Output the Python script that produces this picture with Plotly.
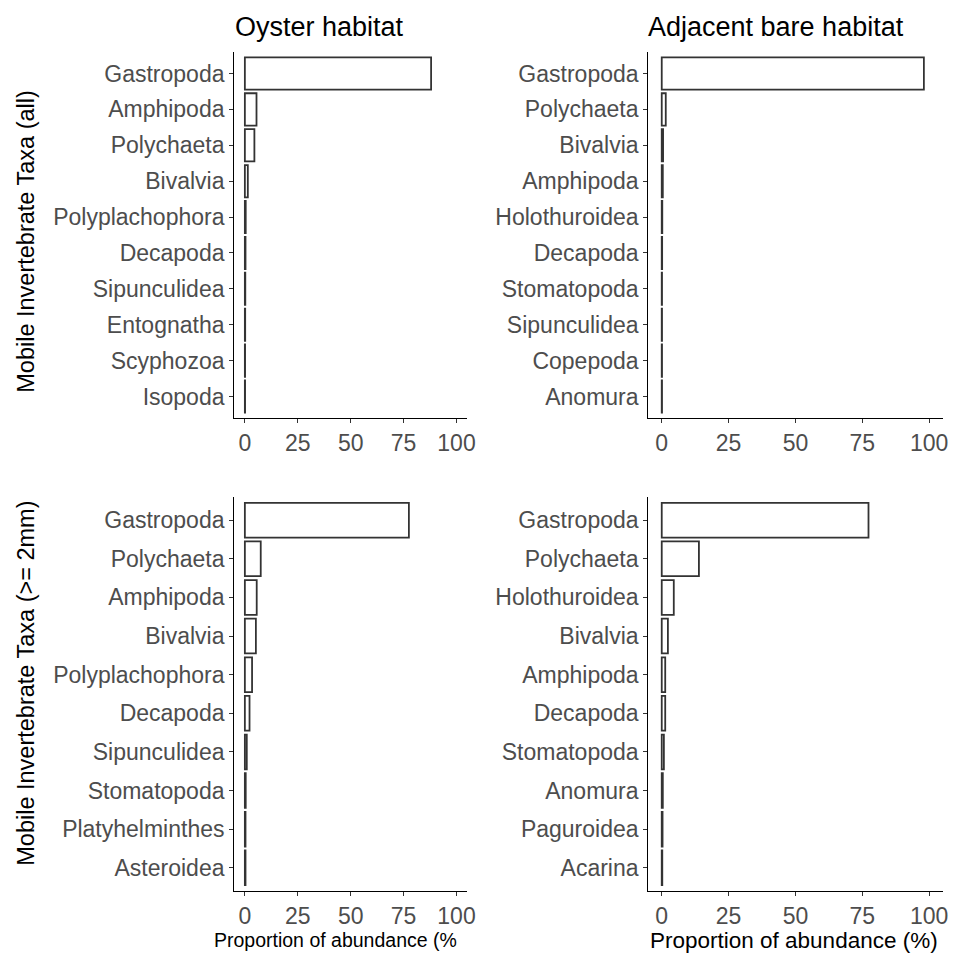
import plotly.graph_objects as go

# ---- data ----
oyster_all_taxa = ["Gastropoda", "Amphipoda", "Polychaeta", "Bivalvia", "Polyplachophora",
                   "Decapoda", "Sipunculidea", "Entognatha", "Scyphozoa", "Isopoda"]
oyster_all_vals = [88.0, 5.5, 4.5, 1.4, 0.4, 0.3, 0.2, 0.15, 0.1, 0.1]

bare_all_taxa = ["Gastropoda", "Polychaeta", "Bivalvia", "Amphipoda", "Holothuroidea",
                 "Decapoda", "Stomatopoda", "Sipunculidea", "Copepoda", "Anomura"]
bare_all_vals = [98.0, 1.5, 0.5, 0.4, 0.2, 0.15, 0.1, 0.1, 0.1, 0.1]

oyster_2mm_taxa = ["Gastropoda", "Polychaeta", "Amphipoda", "Bivalvia", "Polyplachophora",
                   "Decapoda", "Sipunculidea", "Stomatopoda", "Platyhelminthes", "Asteroidea"]
oyster_2mm_vals = [77.5, 7.5, 5.6, 5.2, 3.4, 2.2, 0.9, 0.4, 0.3, 0.3]

bare_2mm_taxa = ["Gastropoda", "Polychaeta", "Holothuroidea", "Bivalvia", "Amphipoda",
                 "Decapoda", "Stomatopoda", "Anomura", "Paguroidea", "Acarina"]
bare_2mm_vals = [77.3, 13.9, 4.5, 2.3, 1.3, 1.3, 0.8, 0.4, 0.3, 0.2]

col_titles = ["Oyster habitat", "Adjacent bare habitat"]
row_titles = ["Mobile Invertebrate Taxa (all)", "Mobile Invertebrate Taxa (>= 2mm)"]
x_title = "Proportion of abundance (%)"
x_ticks = [0, 25, 50, 75, 100]

W, H = 961, 954

def px_x(p):
    return p / W

def px_y(p):
    return 1 - p / H

panels = [
    (oyster_all_taxa, oyster_all_vals, (236.5, 471.5), (52, 418)),
    (bare_all_taxa, bare_all_vals, (654.5, 951.5), (52, 418)),
    (oyster_2mm_taxa, oyster_2mm_vals, (236.5, 471.5), (497, 891)),
    (bare_2mm_taxa, bare_2mm_vals, (654.5, 951.5), (497, 891)),
]

fig = go.Figure()
FONT = "Liberation Sans, Arial, sans-serif"
tickfont = dict(family=FONT, size=23, color="#4d4d4d")

for i, (taxa, vals, (x0, x1), (y0, y1)) in enumerate(panels):
    n = i + 1
    xa = "x" if n == 1 else f"x{n}"
    ya = "y" if n == 1 else f"y{n}"
    fig.add_trace(go.Bar(
        x=vals, y=taxa, orientation="h", width=0.9,
        marker=dict(color="white", line=dict(color="#333333", width=1.8)),
        xaxis=xa, yaxis=ya, showlegend=False,
    ))
    xkey = "xaxis" if n == 1 else f"xaxis{n}"
    ykey = "yaxis" if n == 1 else f"yaxis{n}"
    fig.update_layout(**{
        xkey: dict(domain=[px_x(x0), px_x(x1)], anchor=ya, range=[-5, 105],
                   tickvals=x_ticks, ticktext=[str(t) for t in x_ticks],
                   showline=True, linecolor="black", linewidth=1.4,
                   ticks="outside", ticklen=4, tickcolor="#333333", tickwidth=1.2,
                   showgrid=False, zeroline=False, tickfont=tickfont, fixedrange=True),
        ykey: dict(domain=[px_y(y1), px_y(y0)], anchor=xa, type="category",
                   categoryorder="array", categoryarray=taxa, range=[9.6, -0.6],
                   showline=True, linecolor="black", linewidth=1.4,
                   ticks="outside", ticklen=4, tickcolor="#333333", tickwidth=1.2,
                   showgrid=False, zeroline=False, tickfont=tickfont, fixedrange=True),
    })

annotations = [
    dict(text=col_titles[0], x=px_x(236), y=px_y(27), xanchor="left", yanchor="middle",
         font=dict(family=FONT, size=27, color="black")),
    dict(text=col_titles[1], x=px_x(653), y=px_y(27), xanchor="left", yanchor="middle",
         font=dict(family=FONT, size=27, color="black")),
    dict(text=row_titles[0], x=px_x(26), y=px_y(241), xanchor="center", yanchor="middle",
         textangle=-90, font=dict(family=FONT, size=23.5, color="black")),
    dict(text=row_titles[1], x=px_x(26), y=px_y(683), xanchor="center", yanchor="middle",
         textangle=-90, font=dict(family=FONT, size=23.5, color="black")),
    dict(text=x_title[:-1], x=px_x(215), y=px_y(940), xanchor="left", yanchor="middle",
         font=dict(family=FONT, size=19.5, color="black")),
    dict(text=x_title, x=px_x(802), y=px_y(940), xanchor="center", yanchor="middle",
         font=dict(family=FONT, size=22.5, color="black")),
]
for a in annotations:
    a.update(xref="paper", yref="paper", showarrow=False, borderpad=0)

fig.update_layout(
    width=W, height=H, margin=dict(l=0, r=0, t=0, b=0),
    paper_bgcolor="white", plot_bgcolor="white",
    annotations=annotations, bargap=0.1,
)

fig.write_html("out.html", config={"displayModeBar": False})
